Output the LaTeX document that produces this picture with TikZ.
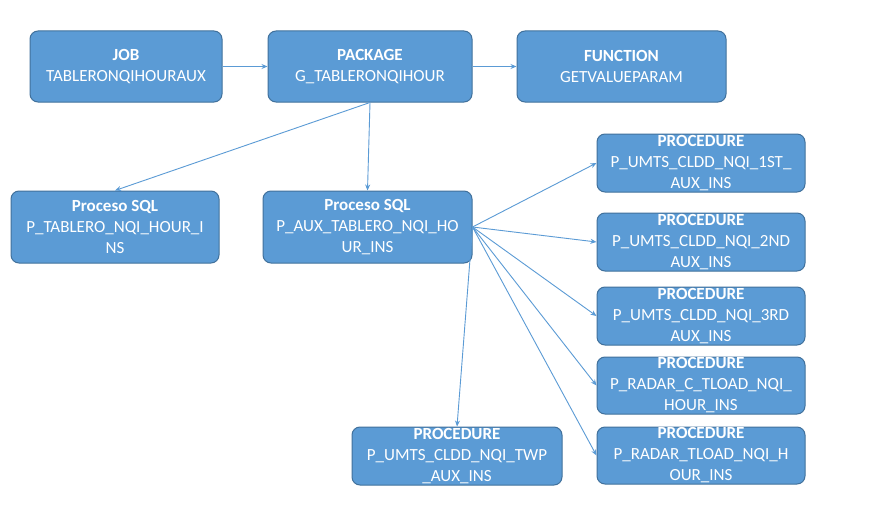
\documentclass[tikz,border=0pt]{standalone}
\usepackage{fontspec}
\setmainfont{Carlito}
\usetikzlibrary{arrows.meta}
\definecolor{boxfill}{HTML}{5B9BD5}
\definecolor{boxline}{HTML}{41719C}
\definecolor{arrowc}{HTML}{5B9BD5}
\tikzset{
  box/.style={draw=boxline, line width=1pt, fill=boxfill, rounded corners=8pt,
    text=white, align=center, inner sep=0pt,
    font=\fontsize{17}{21}\selectfont},
  conn/.style={draw=arrowc, line width=0.9pt, -{Stealth[length=6pt,width=5pt]}},
}
\newcommand{\boxat}[6]{% name, x1, y1, x2, y2, text
  \node[box, minimum width={#4-#2}, minimum height={#5-#3}] (#1) at ({(#2+#4)/2},{(#3+#5)/2}) {#6};}
\begin{document}
\begin{tikzpicture}[x=1pt,y=-1pt]
\useasboundingbox[fill=white] (0,0) rectangle (878,511);
\boxat{job}{30}{31}{222}{102}{\textbf{JOB}\\TABLERONQIHOURAUX}
\boxat{pkg}{268}{31}{472}{102}{\textbf{PACKAGE}\\G\_TABLERONQIHOUR}
\boxat{fun}{517}{31}{726}{102}{\textbf{FUNCTION}\\GETVALUEPARAM}
\boxat{sqla}{11}{191}{219}{263}{\textbf{Proceso SQL}\\P\_TABLERO\_NQI\_HOUR\_I\\NS}
\boxat{sqlb}{263}{191}{472}{263}{\textbf{Proceso SQL}\\P\_AUX\_TABLERO\_NQI\_HO\\UR\_INS}
\boxat{pa}{597}{134}{805}{192}{\textbf{PROCEDURE}\\P\_UMTS\_CLDD\_NQI\_1ST\_\\AUX\_INS}
\boxat{pb}{597}{213}{805}{271}{\textbf{PROCEDURE}\\P\_UMTS\_CLDD\_NQI\_2ND\\AUX\_INS}
\boxat{pc}{597}{287}{805}{345}{\textbf{PROCEDURE}\\P\_UMTS\_CLDD\_NQI\_3RD\\AUX\_INS}
\boxat{pd}{597}{357}{805}{414}{\textbf{PROCEDURE}\\P\_RADAR\_C\_TLOAD\_NQI\_\\HOUR\_INS}
\boxat{pe}{597}{427}{805}{484}{\textbf{PROCEDURE}\\P\_RADAR\_TLOAD\_NQI\_H\\OUR\_INS}
\boxat{pf}{352}{427}{562}{485}{\textbf{PROCEDURE}\\P\_UMTS\_CLDD\_NQI\_TWP\\\_AUX\_INS}
\draw[conn] (job.east) -- (pkg.west);
\draw[conn] (pkg.east) -- (fun.west);
\draw[conn] (pkg.south) -- (sqla.north);
\draw[conn] (pkg.south) -- (sqlb.north);
\draw[conn] (sqlb.east) -- (pa.west);
\draw[conn] (sqlb.east) -- (pb.west);
\draw[conn] (sqlb.east) -- (pc.west);
\draw[conn] (sqlb.east) -- (pd.west);
\draw[conn] (sqlb.east) -- (pe.west);
\draw[conn] (sqlb.east) -- (pf.north);
\end{tikzpicture}
\end{document}
